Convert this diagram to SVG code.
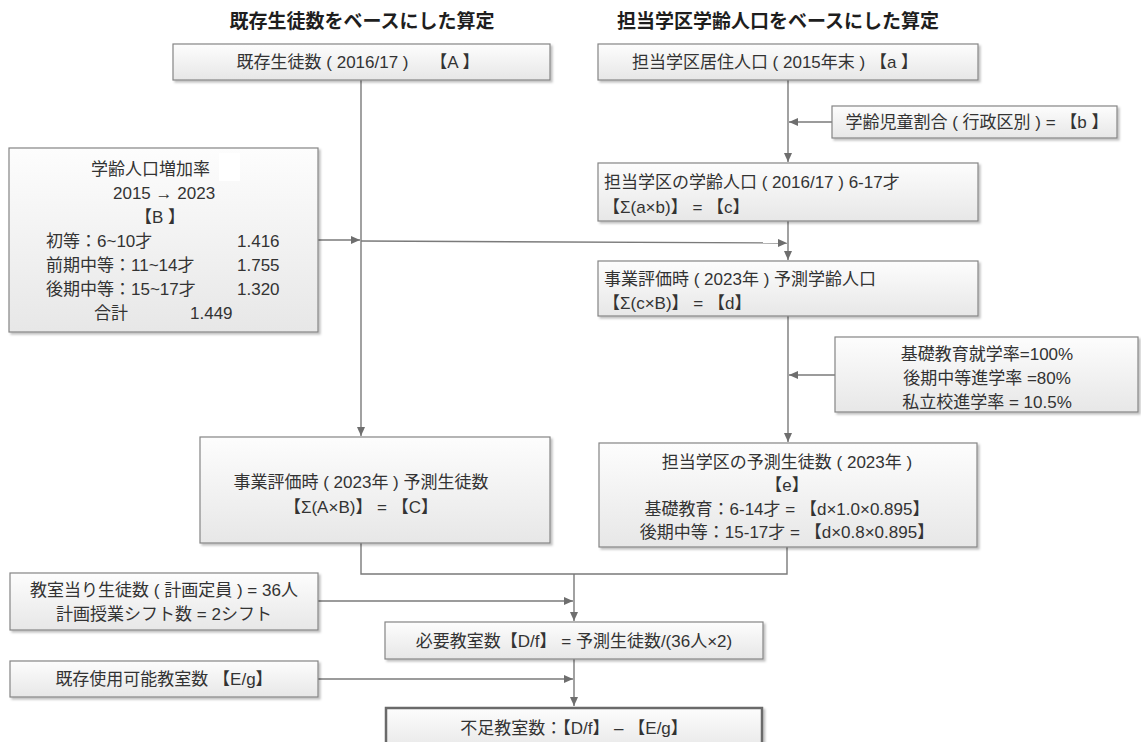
<svg xmlns="http://www.w3.org/2000/svg" width="1141" height="742" viewBox="0 0 1141 742">
<style>
.box{fill:url(#g);stroke:#858585;stroke-width:1.2;filter:url(#sh)}
.thick{stroke:#6a6a6a;stroke-width:2.5}
.t{font-family:"Liberation Sans","Noto Sans CJK JP",sans-serif;font-size:17px;fill:#333;dominant-baseline:central}
.c{text-anchor:middle}
.title{font-family:"Liberation Sans","Noto Sans CJK JP",sans-serif;font-size:19px;font-weight:bold;fill:#1e1e1e;text-anchor:middle;dominant-baseline:central}
.ln{fill:none;stroke:#7a7a7a;stroke-width:1.4}
.ar{marker-end:url(#ah)}
</style>
<defs>
<linearGradient id="g" x1="0" y1="0" x2="0" y2="1">
<stop offset="0" stop-color="#fdfdfd"/>
<stop offset="1" stop-color="#e7e7e7"/>
</linearGradient>
<filter id="sh" x="-5%" y="-5%" width="115%" height="130%">
<feDropShadow dx="2" dy="2" stdDeviation="1" flood-color="#000" flood-opacity="0.25"/>
</filter>
<marker id="ah" markerUnits="userSpaceOnUse" markerWidth="10" markerHeight="8" refX="9" refY="4" orient="auto">
<path d="M0,0 L9,4 L0,8 z" fill="#6e6e6e"/>
</marker>
</defs>
<rect width="1141" height="742" fill="#ffffff"/>
<text class="title" x="362" y="21">既存生徒数をベースにした算定</text>
<text class="title" x="778" y="21">担当学区学齢人口をベースにした算定</text>

<g id="connectors">
<path class="ln ar" d="M361,80 V436"/>
<path class="ln ar" d="M788,80 V162"/>
<path class="ln ar" d="M832,122 H789"/>
<path class="ln ar" d="M318,240 H360"/>
<path class="ln ar" d="M361,241 L787,243"/>
<path class="ln ar" d="M788,221 V260"/>
<path class="ln ar" d="M835,375 H789"/>
<path class="ln ar" d="M788,316 V442"/>
<path class="ln" d="M361,543 V574 H787 V547"/>
<path class="ln ar" d="M574,574 V621"/>
<path class="ln ar" d="M318,601 H573"/>
<path class="ln ar" d="M574,659 V706"/>
<path class="ln ar" d="M318,679 H573"/>
</g>

<g id="nodeA">
<rect class="box" x="173" y="44" width="377" height="36"/>
<text class="t c" x="358" y="62">既存生徒数 ( 2016/17 )　 【A 】</text>
</g>
<g id="nodea">
<rect class="box" x="598" y="44" width="380" height="36"/>
<text class="t c" x="775" y="62">担当学区居住人口 ( 2015年末 ) 【a 】</text>
</g>
<g id="nodeb">
<rect class="box" x="832" y="106" width="285" height="32"/>
<text class="t c" x="977" y="122">学齢児童割合 ( 行政区別 ) = 【b 】</text>
</g>
<g id="nodeB">
<rect class="box" x="9" y="148" width="309" height="184"/>
<rect x="219" y="153" width="21" height="28" fill="#ffffff"/>
<text class="t" x="91" y="169">学齢人口増加率</text>
<text class="t" x="113" y="193">2015 → 2023</text>
<text class="t c" x="160" y="217">【B 】</text>
<text class="t" x="46" y="241">初等：6~10才</text>
<text class="t" x="237" y="241">1.416</text>
<text class="t" x="46" y="265">前期中等：11~14才</text>
<text class="t" x="237" y="265">1.755</text>
<text class="t" x="46" y="289">後期中等：15~17才</text>
<text class="t" x="237" y="289">1.320</text>
<text class="t" x="94" y="313">合計</text>
<text class="t" x="190" y="313">1.449</text>
</g>
<g id="nodec">
<rect class="box" x="598" y="163" width="380" height="58"/>
<text class="t" x="604" y="182">担当学区の学齢人口 ( 2016/17 ) 6-17才</text>
<text class="t" x="603" y="207">【Σ(a×b)】 = 【c】</text>
</g>
<g id="noded">
<rect class="box" x="598" y="261" width="380" height="55"/>
<text class="t" x="604" y="279">事業評価時 ( 2023年 ) 予測学齢人口</text>
<text class="t" x="603" y="303">【Σ(c×B)】 = 【d】</text>
</g>
<g id="noderates">
<rect class="box" x="835" y="337" width="303" height="75"/>
<text class="t c" x="987" y="354">基礎教育就学率=100%</text>
<text class="t c" x="987" y="378">後期中等進学率 =80%</text>
<text class="t c" x="987" y="402">私立校進学率 = 10.5%</text>
</g>
<g id="nodeC">
<rect class="box" x="200" y="437" width="350" height="106"/>
<text class="t c" x="361" y="482">事業評価時 ( 2023年 ) 予測生徒数</text>
<text class="t c" x="361" y="507">【Σ(A×B)】 = 【C】</text>
</g>
<g id="nodee">
<rect class="box" x="599" y="443" width="378" height="104"/>
<text class="t c" x="787" y="462">担当学区の予測生徒数 ( 2023年 )</text>
<text class="t c" x="787" y="485">【e】</text>
<text class="t c" x="787" y="509">基礎教育：6-14才 = 【d×1.0×0.895】</text>
<text class="t c" x="787" y="532">後期中等：15-17才 = 【d×0.8×0.895】</text>
</g>
<g id="nodeclass">
<rect class="box" x="10" y="573" width="308" height="57"/>
<text class="t c" x="164" y="590">教室当り生徒数 ( 計画定員 ) = 36人</text>
<text class="t c" x="164" y="614">計画授業シフト数 = 2シフト</text>
</g>
<g id="nodeneed">
<rect class="box" x="385" y="622" width="378" height="37"/>
<text class="t c" x="574" y="641">必要教室数【D/f】 = 予測生徒数/(36人×2)</text>
</g>
<g id="nodeexist">
<rect class="box" x="10" y="661" width="308" height="36"/>
<text class="t c" x="164" y="679">既存使用可能教室数 【E/g】</text>
</g>
<g id="nodeshort">
<rect class="box thick" x="386" y="708" width="376" height="44"/>
<text class="t c" x="574" y="728">不足教室数：【D/f】 – 【E/g】</text>
</g>
</svg>
